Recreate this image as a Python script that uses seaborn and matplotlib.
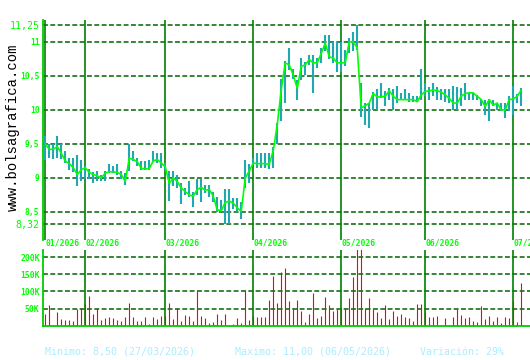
import matplotlib
matplotlib.use("Agg")
import matplotlib.pyplot as plt
import matplotlib.transforms as mtransforms
import seaborn as sns
import pandas as pd

# ---------------- data ----------------
close = [9.50, 9.42, 9.42, 9.46, 9.36, 9.25, 9.21, 9.15, 9.05, 9.12,
         9.15, 9.08, 9.05, 9.03, 9.00, 9.07, 9.09, 9.09, 9.08, 9.05,
         8.95, 9.29, 9.27, 9.24, 9.14, 9.13, 9.14, 9.25, 9.27, 9.22,
         9.16, 8.92, 9.00, 8.95, 8.85, 8.80, 8.75, 8.73, 8.83, 8.86,
         8.82, 8.83, 8.73, 8.53, 8.52, 8.64, 8.66, 8.63, 8.56, 8.51,
         9.00, 9.10, 9.22, 9.21, 9.21, 9.21, 9.20, 9.40, 9.78, 10.30,
         10.69, 10.66, 10.51, 10.32, 10.64, 10.66, 10.74, 10.69, 10.69, 10.83,
         10.98, 10.78, 10.76, 10.69, 10.69, 10.69, 11.00, 11.00, 10.91, 10.03,
         10.06, 10.10, 10.24, 10.19, 10.19, 10.20, 10.28, 10.20, 10.15, 10.15,
         10.15, 10.15, 10.15, 10.12, 10.22, 10.27, 10.28, 10.29, 10.28, 10.26,
         10.22, 10.17, 10.10, 10.10, 10.20, 10.24, 10.25, 10.25, 10.20, 10.15,
         10.05, 10.15, 10.07, 10.10, 10.00, 10.00, 10.15, 10.16, 10.20, 10.29]

high = [9.61, 9.50, 9.50, 9.61, 9.50, 9.39, 9.29, 9.29, 9.33, 9.27,
        9.18, 9.13, 9.08, 9.10, 9.05, 9.10, 9.21, 9.18, 9.20, 9.10,
        9.07, 9.50, 9.39, 9.29, 9.25, 9.25, 9.27, 9.39, 9.37, 9.37,
        9.22, 9.10, 9.10, 9.05, 8.92, 8.85, 8.95, 8.80, 8.99, 8.99,
        8.90, 8.90, 8.80, 8.72, 8.68, 8.84, 8.84, 8.70, 8.70, 8.65,
        9.27, 9.20, 9.30, 9.36, 9.36, 9.36, 9.36, 9.45, 9.80, 10.45,
        10.72, 10.91, 10.60, 10.44, 10.76, 10.71, 10.81, 10.81, 10.76, 10.91,
        11.10, 11.10, 11.00, 11.00, 11.00, 10.88, 11.05, 11.15, 11.25, 10.39,
        10.10, 10.10, 10.26, 10.30, 10.39, 10.27, 10.32, 10.30, 10.35, 10.25,
        10.30, 10.25, 10.21, 10.21, 10.60, 10.39, 10.34, 10.39, 10.33, 10.30,
        10.30, 10.30, 10.35, 10.33, 10.32, 10.39, 10.25, 10.25, 10.22, 10.16,
        10.15, 10.16, 10.15, 10.10, 10.10, 10.10, 10.20, 10.35, 10.24, 10.32]

low = [9.27, 9.29, 9.28, 9.29, 9.28, 9.22, 9.12, 9.08, 8.88, 8.95,
       8.98, 8.98, 8.93, 8.95, 8.95, 8.95, 9.07, 9.07, 9.05, 8.98,
       8.90, 9.10, 9.25, 9.17, 9.12, 9.12, 9.12, 9.25, 9.22, 9.15,
       9.12, 8.66, 8.88, 8.85, 8.62, 8.75, 8.72, 8.58, 8.75, 8.64,
       8.78, 8.72, 8.64, 8.50, 8.50, 8.32, 8.32, 8.55, 8.50, 8.40,
       8.85, 8.92, 9.20, 9.15, 9.15, 9.15, 9.13, 9.15, 9.50, 9.83,
       10.10, 10.59, 10.45, 10.15, 10.44, 10.51, 10.66, 10.25, 10.61, 10.69,
       10.86, 10.75, 10.69, 10.56, 10.56, 10.65, 10.83, 10.86, 10.88, 9.90,
       9.78, 9.73, 10.00, 10.00, 10.17, 10.05, 10.15, 10.00, 10.10, 10.15,
       10.15, 10.12, 10.12, 10.12, 10.15, 10.20, 10.15, 10.20, 10.15, 10.15,
       10.12, 10.10, 10.00, 10.00, 10.05, 10.15, 10.15, 10.15, 10.15, 10.05,
       9.93, 9.83, 10.05, 10.00, 9.98, 9.88, 9.98, 9.93, 10.10, 10.05]

volume_k = [34, 61, 2, 40, 20, 17, 17, 14, 50, 52,
            64, 87, 34, 52, 17, 23, 25, 23, 17, 14,
            25, 67, 25, 14, 14, 25, 5, 25, 20, 28,
            28, 67, 20, 52, 14, 31, 28, 14, 102, 28,
            23, 8, 11, 34, 17, 34, 2, 5, 23, 8,
            105, 17, 28, 25, 25, 25, 76, 144, 65, 156,
            168, 71, 53, 76, 44, 12, 35, 94, 21, 29,
            85, 59, 44, 50, 53, 50, 82, 141, 223, 223,
            53, 82, 50, 41, 21, 59, 18, 44, 29, 35,
            26, 21, 15, 62, 62, 41, 24, 24, 29, 3,
            21, 3, 26, 50, 32, 21, 24, 15, 12, 56,
            18, 29, 15, 24, 9, 24, 21, 71, 12, 126]

month_labels = ["01/2026", "02/2026", "03/2026", "04/2026", "05/2026", "06/2026", "07/2026"]
month_pos = [0, 10, 30, 52, 74, 95, 117]

price_ticks = [8.32, 8.5, 9, 9.5, 10, 10.5, 11, 11.25]
price_tick_labels = ["8,32", "8,5", "9", "9,5", "10", "10,5", "11", "11,25"]
vol_ticks = [50, 100, 150, 200]
vol_tick_labels = ["50K", "100K", "150K", "200K"]

footer_texts = ["Minimo: 8,50 (27/03/2026)", "Maximo: 11,00 (06/05/2026)", "Variación: 29%"]
watermark = "www.bolsagrafica.com"

# ---------------- styling ----------------
sns.set_theme(style="white")
plt.rcParams['font.family'] = ['DejaVu Sans Mono', 'DejaVu Sans']

LIME = "#00FF00"
GRID = "#006400"
MONTH = "#008000"
SPINE = "#00CC00"
HL = "#1FA8B0"
FOOT = "#A8EEFF"

W, H = 530, 360
fig = plt.figure(figsize=(W / 100, H / 100), dpi=100)
fig.patch.set_facecolor("white")

ax = fig.add_axes([43 / W, 1 - 240 / H, 1 - 43 / W, 220 / H])
axv = fig.add_axes([43 / W, 1 - 326 / H, 1 - 43 / W, 76 / H])

df = pd.DataFrame({"idx": list(range(len(close))), "close": close,
                   "high": high, "low": low, "vol": volume_k})

xmin, xmax = -0.575, 121.2

for a in (ax, axv):
    a.set_facecolor("white")
    for s in ("top", "right", "bottom", "left"):
        a.spines[s].set_visible(False)
    a.tick_params(axis="both", length=0)

# ----- price panel -----
ax.set_ylim(8.088, 11.32)
for t in price_ticks:
    ax.axhline(t, color=GRID, lw=1.1, linestyle=(0, (3.2, 1.6)), zorder=1)
for p in month_pos:
    ax.axvline(p, color=MONTH, lw=1.2, zorder=1)
ax.spines["left"].set_visible(True)
ax.spines["left"].set_color(SPINE)
ax.spines["left"].set_linewidth(1.3)

ax.vlines(df["idx"], df["low"], df["high"], color=HL, lw=1.5, zorder=2)
sns.lineplot(data=df, x="idx", y="close", ax=ax, color=LIME, lw=1.2, zorder=3)
ax.set_xlim(xmin, xmax)
ax.set_xticks([])
ax.set_xlabel("")
ax.set_ylabel("")

ax.set_yticks(price_ticks)
ax.set_yticklabels(price_tick_labels)
for lab, t in zip(ax.get_yticklabels(), price_ticks):
    lab.set_color(LIME)
    if t in (8.32, 11.25):
        lab.set_fontsize(7.2)
    else:
        lab.set_fontsize(5.8)
        lab.set_fontweight("bold")
ax.tick_params(axis="y", pad=2.5)

trans = mtransforms.blended_transform_factory(ax.transData, ax.transAxes)
for p, lab in zip(month_pos, month_labels):
    ax.text(p + 0.15, -0.015, lab, transform=trans, color=LIME, fontsize=5.8,
            fontweight="bold", ha="left", va="center", clip_on=False)

# ----- volume panel -----
axv.set_ylim(-1, 221)
for t in vol_ticks:
    axv.axhline(t, color=GRID, lw=1.1, linestyle=(0, (3.2, 1.6)), zorder=1)
for p in month_pos[1:]:
    axv.axvline(p, color=MONTH, lw=1.2, zorder=1)
vol_lines = axv.vlines(df["idx"], 0, df["vol"], color="#FF0000", lw=0.8, zorder=2)
vol_lines.set_snap(True)
axv.set_xlim(xmin, xmax)
axv.set_xticks([])
axv.spines["left"].set_visible(True)
axv.spines["left"].set_color(SPINE)
axv.spines["left"].set_linewidth(1.3)
axv.spines["bottom"].set_visible(True)
axv.spines["bottom"].set_color(SPINE)
axv.spines["bottom"].set_linewidth(1.3)
axv.spines["bottom"].set_position(("data", -1))
axv.set_yticks(vol_ticks)
axv.set_yticklabels(vol_tick_labels)
for lab in axv.get_yticklabels():
    lab.set_color(LIME)
    lab.set_fontsize(5.8)
    lab.set_fontweight("bold")
axv.tick_params(axis="y", pad=2.5)

# ----- texts -----
fig.text(13 / W, 1 - 127 / H, watermark, rotation=90, ha="center", va="center",
         color="black", fontsize=10, family=["Liberation Mono", "DejaVu Sans Mono"])
footer_x = [45, 235, 420]
for x, s in zip(footer_x, footer_texts):
    fig.text(x / W, 1 - 352 / H, s, ha="left", va="center", color=FOOT, fontsize=7.2)

fig.savefig("out.png", dpi=100, facecolor="white")
